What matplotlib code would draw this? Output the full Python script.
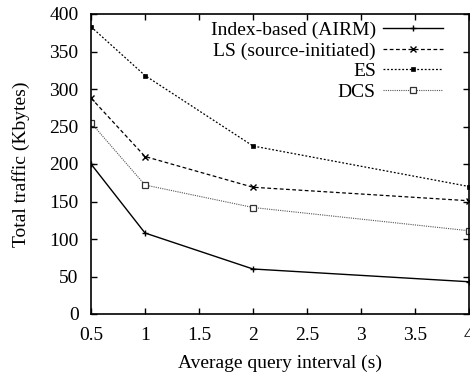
import matplotlib
matplotlib.use("Agg")
import matplotlib.pyplot as plt

# query interval (s)
intervals = [0.5, 1, 2, 4]

airm = [200, 108, 60, 43]
ls_src = [288, 210, 169, 151]
es = [383, 318, 224, 170]
dcs = [255, 172, 142, 111]

xticks = [0.5, 1, 1.5, 2, 2.5, 3, 3.5, 4]
yticks = [0, 50, 100, 150, 200, 250, 300, 350, 400]

plt.rcParams['font.family'] = ['Liberation Serif', 'DejaVu Serif']
plt.rcParams['font.size'] = 14

fig = plt.figure(figsize=(4.7, 3.81), dpi=100)
ax = fig.add_axes([91/470, 1 - 314/381, 378/470, 300/381])

ax.plot(intervals, airm, color='black', lw=1.0, marker='+', ms=5, mew=1,
        label='Index-based (AIRM)')
ax.plot(intervals, ls_src, color='black', lw=0.9, ls=(0, (3, 2)), marker='x', ms=4, mew=1,
        label='LS (source-initiated)')
ax.plot(intervals, es, color='black', lw=0.9, ls=(0, (1.5, 1.5)), marker='s', ms=3.5, mew=0.5,
        label='ES')
ax.plot(intervals, dcs, color='#555555', lw=0.8, ls=(0, (1, 1)), marker='s', ms=4.5, mew=0.9,
        mfc='white', mec='#333333', label='DCS')

ax.set_xlim(0.5, 4)
ax.set_ylim(0, 400)
ax.set_xticks(xticks)
ax.set_xticklabels(['0.5', '1', '1.5', '2', '2.5', '3', '3.5', '4'])
ax.set_yticks(yticks)
ax.tick_params(direction='in', length=4, width=1, top=True, right=True, pad=9)
for s in ax.spines.values():
    s.set_linewidth(1.2)

ax.set_xlabel('Average query interval (s)', labelpad=8)
ax.set_ylabel('Total traffic (Kbytes)', labelpad=14)

ax.legend(loc='upper right', bbox_to_anchor=(0.931, 0.975), frameon=False,
          markerfirst=False, handlelength=3.1, handletextpad=0.35,
          labelspacing=0.15, borderaxespad=0, borderpad=0)

fig.savefig('out.png', dpi=100)
